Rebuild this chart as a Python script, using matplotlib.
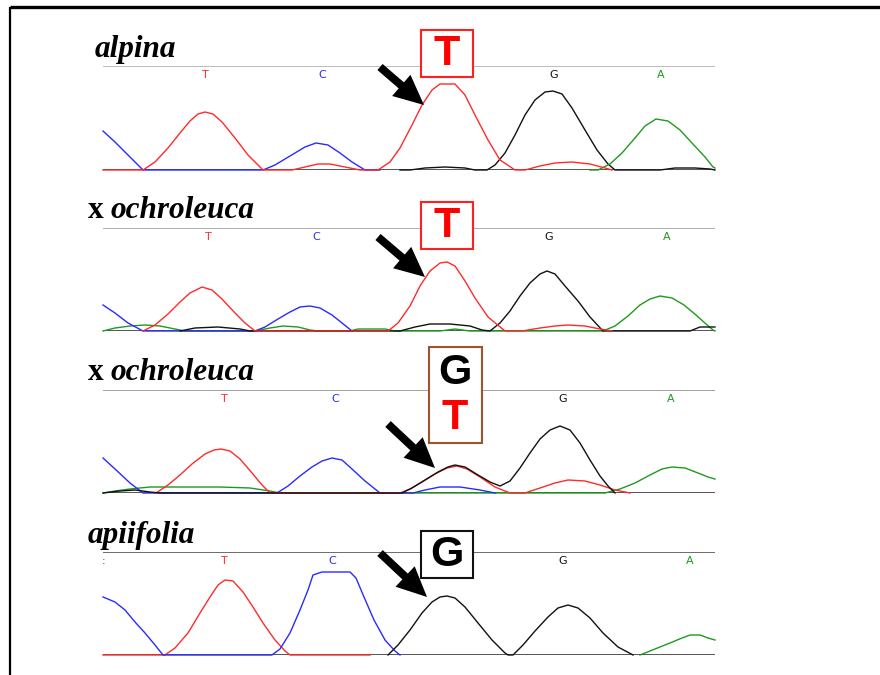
import matplotlib
matplotlib.use('Agg')
import matplotlib.pyplot as plt
from matplotlib.patches import FancyArrow, Rectangle

W, H = 880, 675

# ---- trace data: (scan position, signal) ----
alpina_blue = [(103, 39), (115, 28), (128, 15), (143, 0), (230, 0), (263, 0), (275, 5), (290, 14),
               (305, 23), (316, 27), (328, 25), (340, 17), (352, 8), (365, 0), (380, 0)]
alpina_red = [(103, 0), (143, 0), (155, 8), (168, 22), (180, 37), (190, 49), (198, 56), (205, 58),
              (213, 56), (222, 48), (235, 32), (248, 15), (263, 0), (292, 0), (305, 3), (318, 6),
              (330, 6), (345, 3), (360, 0), (378, 0), (390, 8), (400, 22), (412, 45), (422, 65),
              (432, 80), (440, 86), (455, 86), (465, 75), (475, 55), (488, 30), (500, 10), (515, 0),
              (525, 0), (540, 4), (555, 7), (572, 8), (590, 6), (605, 2), (612, 0)]
alpina_black = [(400, 0), (410, 0), (425, 2), (445, 3), (465, 2), (475, 0), (487, 0), (495, 5),
                (505, 17), (515, 35), (525, 55), (535, 70), (545, 78), (553, 79), (562, 76),
                (572, 62), (585, 40), (597, 20), (608, 6), (615, 0), (660, 0), (675, 2), (695, 2),
                (710, 1), (715, 0)]
alpina_green = [(590, 0), (598, 0), (610, 6), (622, 17), (635, 32), (645, 44), (656, 51), (668, 49),
                (680, 40), (692, 27), (705, 13), (713, 3), (715, 2)]

och1_blue = [(103, 26), (115, 18), (128, 8), (143, 0), (255, 0), (265, 4), (278, 12), (290, 19),
             (300, 24), (310, 25), (320, 23), (332, 16), (342, 8), (352, 0)]
och1_red = [(143, 0), (155, 6), (168, 17), (180, 29), (190, 38), (202, 44), (212, 41), (222, 32),
            (235, 18), (245, 8), (255, 0), (388, 0), (398, 8), (410, 25), (420, 45), (430, 60),
            (440, 68), (447, 69), (455, 65), (465, 50), (475, 33), (488, 14), (505, 0), (522, 0),
            (540, 3), (555, 5), (568, 6), (585, 5), (600, 2), (612, 0)]
och1_green = [(103, 0), (115, 3), (130, 5), (145, 6), (160, 5), (175, 2), (185, 0), (255, 0),
              (270, 3), (283, 5), (298, 4), (310, 1), (318, 0), (350, 0), (358, 2), (385, 2),
              (395, 0), (440, 0), (455, 2), (470, 0), (603, 0), (615, 5), (628, 15), (640, 26),
              (650, 32), (660, 35), (672, 33), (684, 26), (696, 16), (706, 7), (713, 1), (715, 0)]
och1_black = [(180, 0), (195, 3), (218, 4), (240, 2), (250, 0), (400, 0), (415, 4), (430, 7),
              (450, 7), (470, 5), (482, 1), (490, 0), (500, 8), (510, 20), (520, 35), (530, 48),
              (540, 57), (547, 60), (555, 57), (565, 45), (578, 30), (590, 14), (603, 0), (690, 0),
              (700, 4), (715, 4)]

och2_blue = [(103, 35), (115, 24), (130, 10), (143, 0), (277, 0), (288, 7), (300, 17), (312, 26),
             (322, 32), (332, 35), (342, 33), (352, 24), (365, 12), (380, 0), (413, 0), (425, 3),
             (440, 6), (460, 6), (480, 3), (495, 0)]
och2_red = [(156, 0), (168, 8), (180, 18), (192, 29), (205, 39), (214, 43), (221, 44), (230, 42),
            (240, 34), (252, 20), (262, 8), (270, 0), (400, 0), (410, 4), (422, 11), (435, 19),
            (447, 25), (457, 27), (467, 24), (480, 16), (495, 6), (510, 0), (525, 0), (540, 5),
            (555, 10), (568, 13), (585, 12), (600, 8), (615, 3), (630, 0)]
och2_green = [(103, 0), (115, 2), (130, 4), (150, 6), (180, 6), (220, 6), (250, 5), (270, 2),
              (280, 0), (605, 0), (620, 4), (635, 10), (650, 18), (662, 24), (672, 26), (685, 25),
              (698, 20), (708, 16), (715, 14)]
och2_black = [(103, 0), (120, 2), (135, 3), (150, 1), (160, 0), (402, 0), (412, 5), (425, 13),
              (438, 21), (448, 26), (455, 28), (465, 26), (478, 18), (490, 11), (500, 7), (510, 12),
              (520, 25), (530, 40), (540, 54), (550, 63), (560, 67), (570, 63), (580, 50), (590, 33),
              (600, 17), (608, 7), (615, 0)]

api_blue = [(103, 58), (115, 53), (125, 45), (135, 33), (145, 22), (155, 10), (163, 0), (272, 0),
            (280, 6), (290, 22), (300, 45), (308, 65), (313, 80), (322, 83), (350, 83), (356, 77),
            (364, 58), (374, 35), (385, 15), (395, 4), (400, 0)]
api_red = [(103, 0), (130, 0), (165, 0), (175, 7), (188, 22), (200, 42), (210, 58), (218, 70),
           (225, 75), (233, 74), (243, 63), (253, 48), (263, 32), (275, 15), (285, 4), (290, 0),
           (330, 0), (370, 0)]
api_black = [(388, 0), (398, 10), (410, 25), (422, 42), (432, 53), (440, 58), (447, 59), (455, 57),
             (465, 48), (478, 32), (492, 15), (505, 2), (508, 0), (513, 0), (523, 10), (535, 24),
             (548, 38), (558, 47), (568, 50), (578, 47), (590, 37), (603, 22), (618, 8), (633, 0)]
api_green = [(640, 0), (655, 6), (670, 12), (682, 17), (690, 20), (700, 20), (708, 17), (715, 15)]

# base calls above each trace
alpina_calls = [('T', 205), ('C', 322), ('G', 554), ('A', 661)]
och1_calls = [('T', 208), ('C', 316), ('G', 549), ('A', 667)]
och2_calls = [('T', 224), ('C', 335), ('G', 563), ('A', 671)]
api_calls = [(':', 104), ('T', 224), ('C', 332), ('G', 563), ('A', 690)]

COL = {'red': '#ff2a2a', 'blue': '#2a2aff', 'black': '#111111', 'green': '#1e9a1e'}
CALL_COL = {'T': COL['red'], 'C': COL['blue'], 'G': COL['black'], 'A': COL['green'], ':': COL['blue']}

panels = [
    # baseline px, top line px, line colour, traces, calls
    (170, 66, '#aaaaaa', [(alpina_blue, 'blue'), (alpina_black, 'black'), (alpina_green, 'green'), (alpina_red, 'red')], alpina_calls),
    (331, 228, '#999999', [(och1_green, 'green'), (och1_blue, 'blue'), (och1_black, 'black'), (och1_red, 'red')], och1_calls),
    (493, 390, '#888888', [(och2_green, 'green'), (och2_blue, 'blue'), (och2_red, 'red'), (och2_black, 'black')], och2_calls),
    (655, 552, '#444444', [(api_green, 'green'), (api_red, 'red'), (api_blue, 'blue'), (api_black, 'black')], api_calls),
]

fig = plt.figure(figsize=(W / 100, H / 100), dpi=100)
fig.patch.set_facecolor('white')

for base, top, line_col, traces, calls in panels:
    ax = fig.add_axes([103 / W, 1 - base / H, 612 / W, (base - top) / H])
    ax.set_xlim(103, 715)
    ax.set_ylim(0, base - top)
    ax.axis('off')
    ax.axhline(0, color='#555555', lw=1.4, zorder=1)
    ax.axhline(base - top, color=line_col, lw=1.1, zorder=1)
    for pts, c in traces:
        xs = [p[0] for p in pts]
        ys = [p[1] for p in pts]
        ax.plot(xs, ys, color=COL[c], lw=1.0, zorder=2, clip_on=False)
    for letter, x in calls:
        ax.text(x, base - top - 9, letter, color=CALL_COL[letter], fontsize=8,
                ha='center', va='center', family='DejaVu Sans')

# overlay in pixel coordinates for frame, titles, boxes and arrows
ov = fig.add_axes([0, 0, 1, 1], zorder=10)
ov.set_xlim(0, W)
ov.set_ylim(H, 0)
ov.axis('off')
ov.patch.set_alpha(0)

ov.plot([10, W], [7, 7], color='black', lw=2.4, solid_capstyle='butt')
ov.plot([10, 10], [7, H], color='black', lw=1.6, solid_capstyle='butt')

title_kw = dict(family='Liberation Serif', fontweight='bold', fontsize=22.5, va='baseline', ha='left')
ov.text(95, 57, 'alpina', style='italic', **title_kw)
ov.text(88, 218, 'x', **title_kw)
ov.text(111, 218, 'ochroleuca', style='italic', **title_kw)
ov.text(88, 380, 'x', **title_kw)
ov.text(111, 380, 'ochroleuca', style='italic', **title_kw)
ov.text(88, 543, 'apiifolia', style='italic', **title_kw)

# highlighted base boxes: (x0, y0, x1, y1, edge colour)
boxes = [(421, 30, 473, 77, '#ff2020'), (421, 202, 473, 249, '#ff2020'),
         (429, 347, 482, 443, '#a0522d'), (421, 531, 473, 578, '#111111')]
for x0, y0, x1, y1, ec in boxes:
    ov.add_patch(Rectangle((x0, y0), x1 - x0, y1 - y0, facecolor='white', edgecolor=ec, lw=1.5))

big_kw = dict(family='Liberation Sans', fontweight='bold', fontsize=31, ha='center', va='center')
ov.text(447, 54, 'T', color='#ff0000', **big_kw)
ov.text(447, 226, 'T', color='#ff0000', **big_kw)
ov.text(455, 373, 'G', color='black', **big_kw)
ov.text(455, 418, 'T', color='#ff0000', **big_kw)
ov.text(447, 555, 'G', color='black', **big_kw)

arrows = [((380, 67), (424, 105)), ((378, 237), (425, 277)),
          ((388, 424), (435, 468)), ((380, 553), (427, 597))]
for (x0, y0), (x1, y1) in arrows:
    ov.add_patch(FancyArrow(x0, y0, x1 - x0, y1 - y0, width=8, head_width=28, head_length=30,
                            length_includes_head=True, color='black', lw=0))

fig.savefig('out.png', dpi=100, facecolor='white')
